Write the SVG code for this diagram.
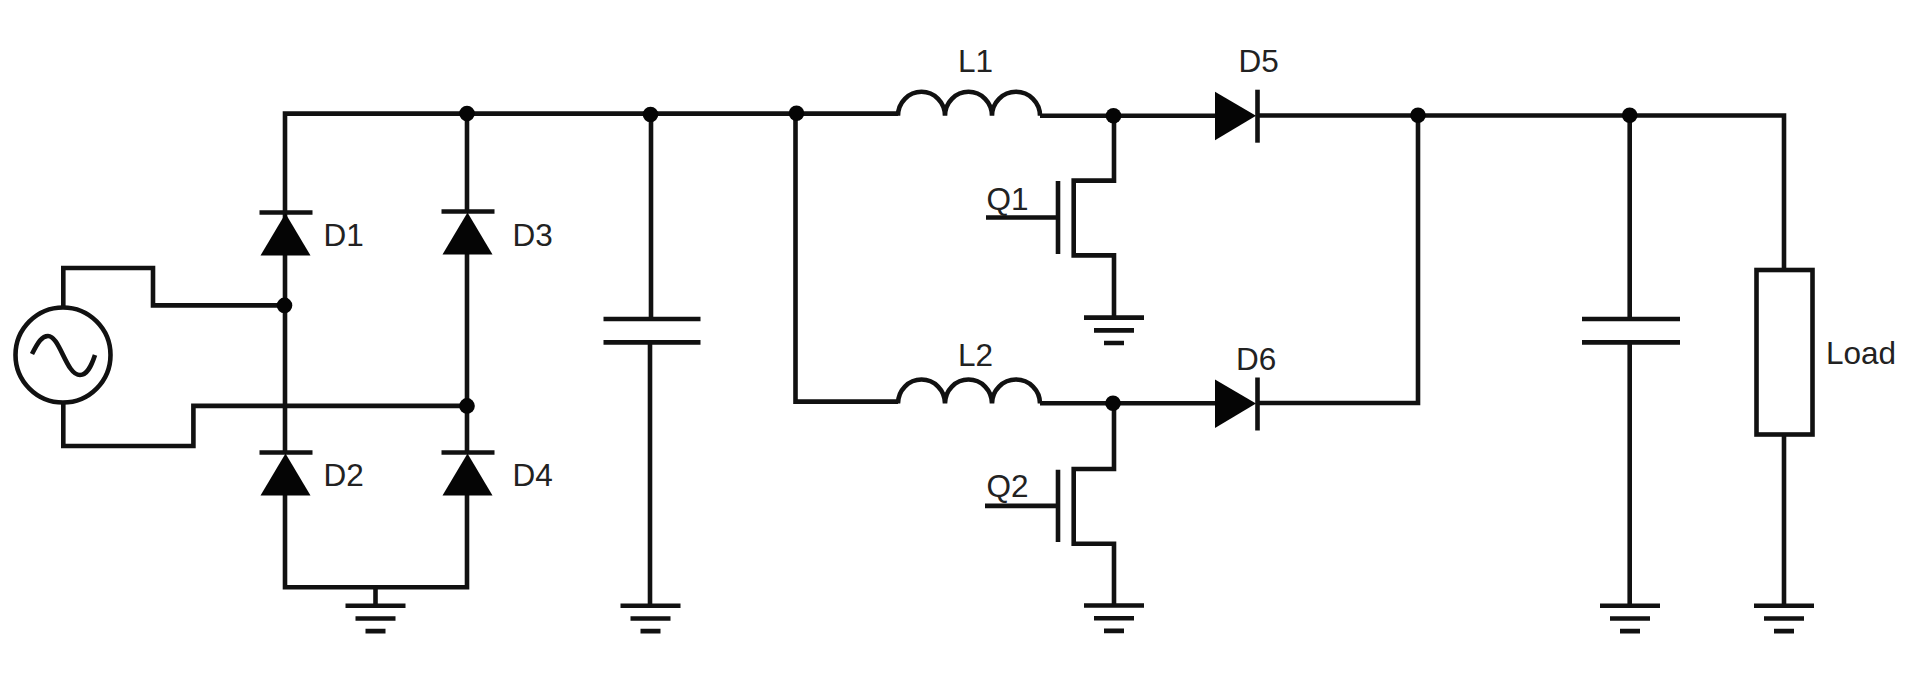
<svg xmlns="http://www.w3.org/2000/svg" width="1920" height="679" viewBox="0 0 1920 679">
<style>
.w{fill:none;stroke:#111;stroke-width:4.6;stroke-linecap:butt;stroke-linejoin:miter}
.f{fill:#050505;stroke:none}
.t{font-family:"Liberation Sans",Arial,sans-serif;font-size:31.5px;fill:#222}
</style>
<defs>
<g id="gnd"><path class="w" d="M-30 0H30M-20 12.8H20M-10 25.4H10"/></g>
<g id="dv"><path class="w" d="M-26 0H27"/><path class="f" d="M0 1L25 43H-25Z"/></g>
<g id="dh"><path class="w" d="M42.5 -26V27"/><path class="f" d="M0 -24L41 0L0 24.5Z"/></g>
<path id="coil" class="w" d="M0 2.5A23.5 24 0 0 1 47 2.5A23.5 24 0 0 1 94 2.5A24 24 0 0 1 142 2.5"/>
<circle id="dot" class="f" r="7.8"/>
</defs>
<rect width="1920" height="679" fill="#fff"/>
<g id="connectors">
<path class="w" d="M285 255V113.6H898"/>
<path class="w" d="M467 113.6V212M467 254V454M467 495V587.3H285V495M285 452V255"/>
<path class="w" d="M63.3 307V268H153V305.4H285"/>
<path class="w" d="M63.3 403V446H193.4V405.9H467"/>
<path class="w" d="M375.5 587.3V605.7"/>
<path class="w" d="M651 114V319M650 342.4V605.7"/>
<path class="w" d="M795.5 113.3V401.6H898"/>
<path class="w" d="M1040 115.8H1215M1258 115.5H1784V270"/>
<path class="w" d="M1040 403.3H1215M1258 403H1418V115"/>
<path class="w" d="M1114 115.8V180.6H1073.7V255.4H1114V317.6"/>
<path class="w" d="M1114 403.3V469H1073.7V543.7H1114V605.5"/>
<path class="w" d="M1629.7 115.5V319M1629.7 342.4V605.7"/>
<path class="w" d="M1784 434.5V605.7"/>
</g>
<g id="nodes-junctions">
<use href="#dot" x="467" y="113.6"/><use href="#dot" x="284.5" y="305.4"/><use href="#dot" x="467" y="405.9"/>
<use href="#dot" x="650.5" y="114.5"/><use href="#dot" x="796.5" y="113.3"/><use href="#dot" x="1113.5" y="115.8"/>
<use href="#dot" x="1113" y="403.3"/><use href="#dot" x="1418" y="115.3"/><use href="#dot" x="1629.7" y="115.3"/>
</g>
<g id="source"><circle class="w" cx="63" cy="355" r="47.5"/><path class="w" d="M32 354C38 342 42 336 48 336C60 336 66 375 80 375C87 375 91 367 95 355"/></g>
<g id="D1"><use href="#dv" x="285.5" y="212.5"/><text class="t" x="323.5" y="245.5">D1</text></g>
<g id="D3"><use href="#dv" x="467.5" y="211.5"/><text class="t" x="512.5" y="245.5">D3</text></g>
<g id="D2"><use href="#dv" x="285.5" y="452.5"/><text class="t" x="323.5" y="486">D2</text></g>
<g id="D4"><use href="#dv" x="467.5" y="452.5"/><text class="t" x="512.5" y="486">D4</text></g>
<g id="GND1"><use href="#gnd" x="375.5" y="605.7"/></g>
<g id="C1"><path class="w" d="M603.5 319H700.5M603.5 342.4H700.5"/></g>
<g id="GND2"><use href="#gnd" x="650.5" y="605.7"/></g>
<g id="L1"><use href="#coil" x="898" y="113.3"/><text class="t" x="958" y="72">L1</text></g>
<g id="L2"><use href="#coil" x="898" y="401"/><text class="t" x="958" y="366">L2</text></g>
<g id="D5"><use href="#dh" x="1215" y="115.7"/><text class="t" x="1238.5" y="72">D5</text></g>
<g id="D6"><use href="#dh" x="1215" y="403.5"/><text class="t" x="1236" y="369.5">D6</text></g>
<g id="Q1"><path class="w" d="M986 217.5H1058M1058 181V254"/><text class="t" x="986.5" y="210">Q1</text></g>
<g id="Q2"><path class="w" d="M985 505.9H1058M1058 469.7V542"/><text class="t" x="986.5" y="496.6">Q2</text></g>
<g id="GND3"><use href="#gnd" x="1114" y="317.6"/></g>
<g id="GND4"><use href="#gnd" x="1114" y="605.5"/></g>
<g id="C2"><path class="w" d="M1582 319H1680M1582 342.4H1680"/></g>
<g id="GND5"><use href="#gnd" x="1630" y="605.7"/></g>
<g id="Load"><rect class="w" x="1756.5" y="270" width="56" height="164.5"/><text class="t" x="1826" y="363.5">Load</text></g>
<g id="GND6"><use href="#gnd" x="1784" y="605.7"/></g>
</svg>
